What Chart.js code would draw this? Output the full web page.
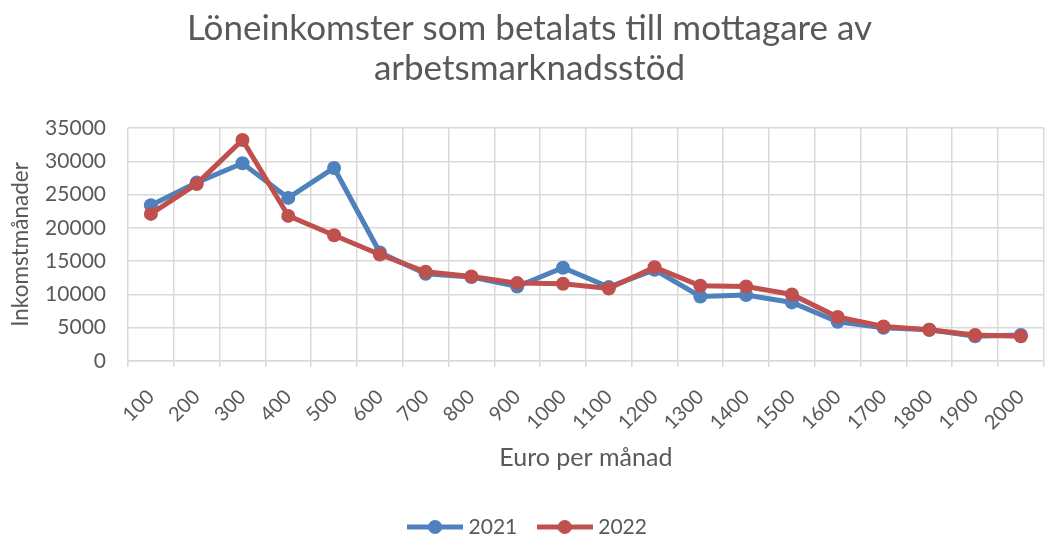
<!DOCTYPE html>
<html>
<head>
<meta charset="utf-8">
<script src="https://cdn.jsdelivr.net/npm/chart.js@4"></script>
<style>
  html, body { margin: 0; padding: 0; background: #fff; overflow: hidden; }
  #wrap { width: 1056px; height: 538px; }
</style>
</head>
<body>
<div id="wrap"><canvas id="c" width="1056" height="538"></canvas></div>
<script>
const categories = ['100','200','300','400','500','600','700','800','900','1000','1100','1200','1300','1400','1500','1600','1700','1800','1900','2000'];
const values2021 = [23400, 26800, 29700, 24500, 29000, 16300, 13100, 12600, 11200, 14000, 11100, 13700, 9700, 9900, 8800, 5900, 5000, 4700, 3700, 3900];
const values2022 = [22100, 26600, 33200, 21800, 18900, 16000, 13400, 12700, 11700, 11600, 10900, 14100, 11300, 11200, 10000, 6600, 5200, 4700, 3900, 3700];
const seriesNames = ['2021', '2022'];
const seriesColors = ['#4F81BD', '#C0504D'];
const titleLines = ['Löneinkomster som betalats till mottagare av', 'arbetsmarknadsstöd'];
const xTitle = 'Euro per månad';
const yTitle = 'Inkomstmånader';
const yMin = 0, yMax = 35000, yStep = 5000;

const FONT = 'Lato, "Open Sans", sans-serif';
const TXT = '#595959';

function legendIcon(color) {
  const c = document.createElement('canvas');
  c.width = 56; c.height = 16;
  const g = c.getContext('2d');
  g.strokeStyle = color; g.lineWidth = 5;
  g.beginPath(); g.moveTo(0, 8); g.lineTo(56, 8); g.stroke();
  g.fillStyle = color;
  g.beginPath(); g.arc(28, 8, 7, 0, Math.PI * 2); g.fill();
  return c;
}
const icons = seriesColors.map(legendIcon);

new Chart(document.getElementById('c'), {
  type: 'line',
  data: {
    labels: categories,
    datasets: [
      { label: seriesNames[0], data: values2021, borderColor: seriesColors[0], backgroundColor: seriesColors[0],
        borderWidth: 5, pointRadius: 7, pointBorderWidth: 0, pointBackgroundColor: seriesColors[0], tension: 0, order: 1 },
      { label: seriesNames[1], data: values2022, borderColor: seriesColors[1], backgroundColor: seriesColors[1],
        borderWidth: 5, pointRadius: 7, pointBorderWidth: 0, pointBackgroundColor: seriesColors[1], tension: 0, order: 0 }
    ]
  },
  options: {
    responsive: false,
    animation: false,
    devicePixelRatio: 1,
    layout: { padding: { left: 4, right: 1, top: 0, bottom: 0 } },
    plugins: {
      tooltip: { enabled: false },
      title: {
        display: true, text: titleLines, color: TXT,
        font: { family: FONT, size: 35, weight: 'normal', lineHeight: 1.143 },
        padding: { top: 9, bottom: 39 }
      },
      legend: {
        position: 'bottom',
        maxHeight: 46,
        labels: {
          usePointStyle: true, pointStyleWidth: 46, color: TXT,
          font: { family: FONT, size: 21 }, padding: 24.5,
          generateLabels(chart) {
            return chart.data.datasets.map((ds, i) => ({
              text: ds.label, datasetIndex: i, pointStyle: icons[i],
              fillStyle: ds.borderColor, strokeStyle: ds.borderColor, lineWidth: 0,
              fontColor: TXT, hidden: false
            }));
          }
        }
      }
    },
    scales: {
      x: {
        offset: true,
        grid: { offset: true, color: '#d9d9d9', lineWidth: 1.5, drawTicks: true, tickLength: 6, tickColor: '#d9d9d9' },
        border: { color: '#d9d9d9', width: 1.5 },
        ticks: { color: TXT, font: { family: FONT, size: 20 }, minRotation: 45, maxRotation: 45, autoSkip: false, padding: 18 },
        title: { display: true, text: xTitle, color: TXT, font: { family: FONT, size: 25 }, padding: { top: 10, bottom: 19 } },
        afterFit(scale) { scale.height = 131; }
      },
      y: {
        min: yMin, max: yMax,
        grid: { color: '#d9d9d9', lineWidth: 1.5, drawTicks: false },
        border: { display: false },
        ticks: { stepSize: yStep, color: TXT, font: { family: FONT, size: 21 }, padding: 22,
                 callback: v => String(v) },
        title: { display: true, text: yTitle, color: TXT, font: { family: FONT, size: 22.5 }, padding: { top: 3, bottom: 0 } },
        afterFit(scale) { scale.width = 124; }
      }
    }
  }
});
</script>
</body>
</html>
